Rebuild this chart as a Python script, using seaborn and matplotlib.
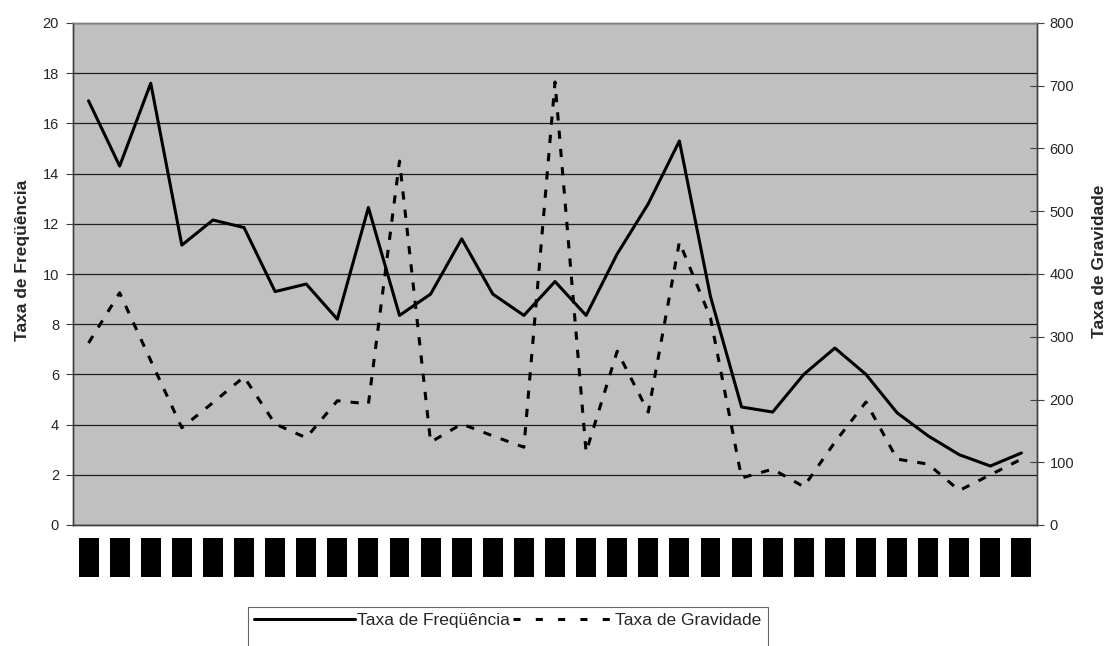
import matplotlib
matplotlib.use("Agg")
import matplotlib.pyplot as plt
from matplotlib.lines import Line2D
import seaborn as sns
import pandas as pd
import numpy as np

# ---- data ----
categories = ["|"] * 31   # category names are blacked out in the reference
freq = [16.9, 14.3, 17.6, 11.15, 12.15, 11.85, 9.3, 9.6, 8.2, 12.65,
        8.35, 9.2, 11.4, 9.2, 8.35, 9.7, 8.35, 10.8, 12.8, 15.3,
        9.1, 4.7, 4.5, 6.0, 7.05, 6.0, 4.47, 3.55, 2.8, 2.35, 2.87]
grav = [290, 370, 262, 155, 195, 236, 161, 139, 198, 193,
        580, 132, 161, 142, 124, 706, 116, 277, 180, 451,
        330, 75, 89, 61, 132, 196, 105, 97, 55, 80, 105]
left_ticks = [0, 2, 4, 6, 8, 10, 12, 14, 16, 18, 20]
right_ticks = [0, 100, 200, 300, 400, 500, 600, 700, 800]
name_freq = "Taxa de Freqüência"
name_grav = "Taxa de Gravidade"

sns.set_theme(style="white")
plt.rcParams['font.family'] = ['Liberation Sans', 'DejaVu Sans']

DPI = 100
df = pd.DataFrame({"idx": np.arange(len(categories)), "freq": freq, "grav": grav})

fig = plt.figure(figsize=(11.15, 6.46), dpi=DPI)
ax = fig.add_axes([73/1115, 1-525/646, (1037-73)/1115, (525-23)/646])
ax.set_facecolor("#c0c0c0")
ax2 = ax.twinx()

sns.lineplot(data=df, x="idx", y="freq", ax=ax, color="black", lw=2.2, legend=False)
sns.lineplot(data=df, x="idx", y="grav", ax=ax2, color="black", lw=2.2, legend=False)
ax2.lines[0].set_dashes((2.7, 3.3))

n = len(categories)
ax.set_xlim(-0.5, n - 0.5)
ax.set_ylim(0, 20)
ax2.set_ylim(0, 800)
ax.set_yticks(left_ticks)
ax2.set_yticks(right_ticks)
ax.grid(axis="y", color="#202020", lw=0.9)
ax.set_axisbelow(True)

# x ticks: boundaries major (no labels), centres minor with labels
ax.set_xticks(np.arange(-0.5, n, 1.0))
ax.set_xticklabels([])
ax.set_xticks(np.arange(n), minor=True)

# size the blacked-out label boxes (about 20 x 38 px)
BOX_W, BOX_H, GAP = 20.0, 38.0, 13.0
F0 = 15.0
ax.set_xticklabels(categories, minor=True, fontsize=F0, color="black")
fig.canvas.draw()
r = fig.canvas.get_renderer()
ext = ax.get_xticklabels(minor=True)[0].get_window_extent(r)
w0, h0 = ext.width, ext.height
F = F0 * (BOX_H - BOX_W) / max(h0 - w0, 1e-6)
w1 = w0 * F / F0
p = (BOX_W - w1) / 2.0
F_px = F * DPI / 72.0
ax.set_xticklabels(categories, minor=True, fontsize=F, color="black")
for t in ax.get_xticklabels(minor=True):
    t.set_bbox(dict(boxstyle="square,pad=%.4f" % (p / F_px), fc="black", ec="none"))
ax.tick_params(axis="x", which="minor", length=0, pad=(GAP + p) * 72.0 / DPI)
ax.tick_params(axis="x", which="major", length=5, width=0.8, color="#404040", direction="out")
ax.set_xlabel("")

ax.tick_params(axis="y", length=5, width=0.8, color="#404040", labelsize=10.5, pad=5,
               direction="out", left=True)
ax2.tick_params(axis="y", length=10, width=0.8, color="#404040", labelsize=10.5, pad=4,
                direction="inout", right=True)

for a in (ax, ax2):
    for s in a.spines.values():
        s.set_color("#404040")
        s.set_linewidth(1.0)
ax.spines["top"].set_color("#808080")
ax2.spines["top"].set_color("#808080")

ax.set_ylabel(name_freq, fontsize=12.5, fontweight="bold", labelpad=9)
ax2.set_ylabel(name_grav, fontsize=12.5, fontweight="bold", labelpad=13)
ax.yaxis.label.set_y(0.528)
ax2.yaxis.label.set_y(0.526)

# legend (frame runs past the bottom edge of the picture, as in the reference)
blank = Line2D([], [], color="none", lw=0)
handles = [Line2D([], [], color="black", lw=2.2), blank,
           Line2D([], [], color="black", lw=2.2, dashes=(2.3, 5.0)), blank]
labels = [name_freq, " ", name_grav, " "]
leg = fig.legend(handles, labels, ncol=2, loc="upper center",
                 bbox_to_anchor=(508/1115, 1 - 607/646), frameon=True, fancybox=False,
                 edgecolor="#404040", fontsize=12.5, handlelength=5.8, handletextpad=0.12,
                 columnspacing=0.15, borderpad=0.35, borderaxespad=0, labelspacing=0.3)
leg.get_frame().set_linewidth(0.8)

fig.savefig("out.png", dpi=DPI)
